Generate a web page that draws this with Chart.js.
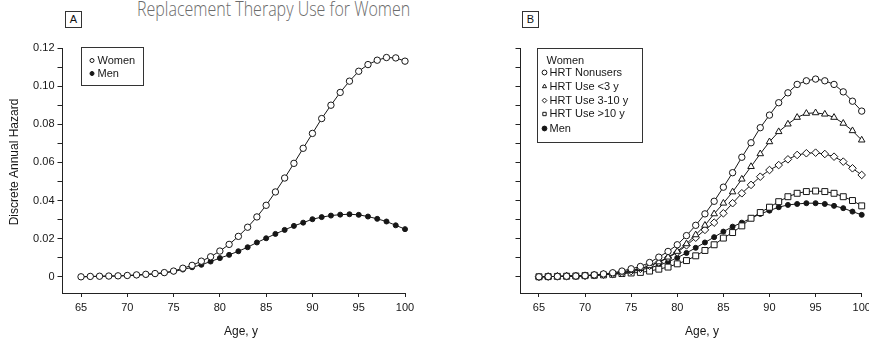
<!DOCTYPE html>
<html>
<head>
<meta charset="utf-8">
<script src="https://cdn.jsdelivr.net/npm/chart.js@4.4.1/dist/chart.umd.min.js"></script>
<style>
html, body { margin: 0; padding: 0; background: #fff; overflow: hidden; }
body { width: 869px; height: 342px; position: relative; font-family: "Liberation Sans", Arial, sans-serif; }
canvas { position: absolute; top: 0; }
#chartA { left: 0; }
#chartB { left: 460px; }
.tag { position: absolute; top: 11px; width: 15px; height: 15px; border: 1px solid #333; font-size: 11px; line-height: 15px; text-align: center; color: #111; }
#title { position: absolute; left: 137px; top: -1px; font-family: "Open Sans", sans-serif; font-weight: 300; font-size: 20px; line-height: 20px; color: #6b6b6b; white-space: nowrap; transform-origin: 0 0; }
</style>
</head>
<body>
<div id="title">Replacement Therapy Use for Women</div>
<div class="tag" style="left:65px">A</div>
<div class="tag" style="left:522px">B</div>
<canvas id="chartA" width="430" height="342"></canvas>
<canvas id="chartB" width="409" height="342"></canvas>
<script>
const ages = [65, 66, 67, 68, 69, 70, 71, 72, 73, 74, 75, 76, 77, 78, 79, 80, 81, 82,
  83, 84, 85, 86, 87, 88, 89, 90, 91, 92, 93, 94, 95, 96, 97, 98, 99, 100];

// panel A
const womenA = [0.0000, 0.0002, 0.0003, 0.0004, 0.0005, 0.0007, 0.0010, 0.0013, 0.0017, 0.0022,
  0.0030, 0.0045, 0.0060, 0.0082, 0.0105, 0.0135, 0.0170, 0.0212, 0.0260, 0.0314,
  0.0375, 0.0445, 0.0518, 0.0595, 0.0674, 0.0752, 0.0830, 0.0900, 0.0967, 0.1026,
  0.1078, 0.1113, 0.1136, 0.1150, 0.1148, 0.1131];
const menA = [0.0000, 0.0001, 0.0002, 0.0003, 0.0004, 0.0006, 0.0008, 0.0011, 0.0015, 0.0020,
  0.0028, 0.0038, 0.0050, 0.0063, 0.0080, 0.0098, 0.0115, 0.0134, 0.0155, 0.0180,
  0.0202, 0.0225, 0.0246, 0.0267, 0.0284, 0.0302, 0.0313, 0.0321, 0.0326, 0.0328,
  0.0325, 0.0316, 0.0304, 0.0290, 0.0270, 0.0250];

// panel B
const nonusersB = [0.0000, 0.0001, 0.0002, 0.0003, 0.0004, 0.0006, 0.0010, 0.0015, 0.0021, 0.0030,
  0.0042, 0.0054, 0.0075, 0.0103, 0.0133, 0.0168, 0.0216, 0.0270, 0.0330, 0.0396,
  0.0470, 0.0546, 0.0627, 0.0703, 0.0782, 0.0848, 0.0913, 0.0965, 0.1009, 0.1028,
  0.1037, 0.1028, 0.1009, 0.0970, 0.0921, 0.0869];
const under3B = [0.0000, 0.0001, 0.0002, 0.0003, 0.0004, 0.0006, 0.0009, 0.0013, 0.0018, 0.0025,
  0.0033, 0.0043, 0.0058, 0.0078, 0.0103, 0.0133, 0.0173, 0.0220, 0.0270, 0.0330,
  0.0386, 0.0445, 0.0512, 0.0578, 0.0645, 0.0708, 0.0761, 0.0801, 0.0836, 0.0857,
  0.0860, 0.0853, 0.0836, 0.0805, 0.0766, 0.0717];
const from3to10B = [0.0000, 0.0001, 0.0002, 0.0003, 0.0004, 0.0005, 0.0008, 0.0011, 0.0015, 0.0020,
  0.0030, 0.0042, 0.0058, 0.0075, 0.0100, 0.0128, 0.0165, 0.0205, 0.0246, 0.0284,
  0.0333, 0.0386, 0.0438, 0.0482, 0.0525, 0.0560, 0.0586, 0.0616, 0.0639, 0.0648,
  0.0651, 0.0644, 0.0630, 0.0604, 0.0569, 0.0534];
const over10B = [0.0000, 0.0001, 0.0002, 0.0003, 0.0004, 0.0006, 0.0008, 0.0010, 0.0013, 0.0017,
  0.0020, 0.0023, 0.0030, 0.0040, 0.0051, 0.0068, 0.0085, 0.0110, 0.0138, 0.0168,
  0.0203, 0.0232, 0.0267, 0.0307, 0.0337, 0.0365, 0.0394, 0.0420, 0.0438, 0.0447,
  0.0450, 0.0447, 0.0438, 0.0420, 0.0400, 0.0372];
const menB = [0.0000, 0.0001, 0.0002, 0.0003, 0.0004, 0.0006, 0.0008, 0.0011, 0.0015, 0.0020,
  0.0027, 0.0036, 0.0047, 0.0060, 0.0078, 0.0100, 0.0125, 0.0152, 0.0180, 0.0208,
  0.0237, 0.0263, 0.0284, 0.0307, 0.0330, 0.0347, 0.0365, 0.0377, 0.0382, 0.0386,
  0.0386, 0.0382, 0.0372, 0.0360, 0.0342, 0.0325];

const xTicks = [65, 70, 75, 80, 85, 90, 95, 100];
const yTicks = [0, 0.01, 0.02, 0.03, 0.04, 0.05, 0.06, 0.07, 0.08, 0.09, 0.10, 0.11, 0.12];
const yTickLabels = ['0', '', '0.02', '', '0.04', '', '0.06', '', '0.08', '', '0.10', '', '0.12'];

const FONT = '"Liberation Sans", Arial, Helvetica, sans-serif';
const INK = '#161616';
Chart.defaults.font.family = FONT;
Chart.defaults.font.size = 11;
Chart.defaults.color = INK;

// squeeze the partial page heading to the width it has in the scan
const title = document.getElementById('title');
title.style.transform = 'scaleX(' + (273 / title.offsetWidth) + ')';

// legend drawn inside the plot area, framed
const boxLegend = {
  id: 'boxLegend',
  afterDatasetsDraw(chart, args, o) {
    if (!o || !o.rows) return;
    const ctx = chart.ctx;
    const a = chart.chartArea;
    const x0 = Math.round(a.left + o.left) + 0.5;
    const y0 = Math.round(a.top + o.top) + 0.5;
    ctx.save();
    ctx.fillStyle = '#fff';
    ctx.fillRect(x0, y0, o.width, o.height);
    ctx.strokeStyle = '#333';
    ctx.lineWidth = 1;
    ctx.strokeRect(x0, y0, o.width, o.height);
    ctx.font = '11px ' + FONT;
    ctx.textBaseline = 'middle';
    ctx.textAlign = 'left';
    ctx.fillStyle = INK;
    if (o.title) ctx.fillText(o.title, x0 + o.titleX, y0 + o.titleY);
    chart.data.datasets.forEach((ds, i) => {
      const y = y0 + o.rows[i];
      ctx.fillStyle = ds.pointBackgroundColor;
      ctx.strokeStyle = INK;
      ctx.lineWidth = 1;
      Chart.helpers.drawPoint(ctx, {pointStyle: ds.pointStyle, radius: o.markerRadius, rotation: 0, borderWidth: 1}, x0 + o.markerX, y);
      ctx.fillStyle = INK;
      ctx.fillText(ds.label, x0 + o.textX, y);
    });
    ctx.restore();
  }
};

// axis captions placed where the scan has them
const captions = {
  id: 'captions',
  afterDraw(chart, args, o) {
    const ctx = chart.ctx;
    (o.items || []).forEach(it => {
      ctx.save();
      ctx.translate(it.x, it.y);
      if (it.rotate) ctx.rotate(-Math.PI / 2);
      ctx.font = '12px ' + FONT;
      ctx.fillStyle = INK;
      ctx.textAlign = 'center';
      ctx.textBaseline = 'middle';
      ctx.fillText(it.text, 0, 0);
      ctx.restore();
    });
  }
};

function series(label, data, style, radius, fill) {
  return {
    label: label,
    data: data,
    borderColor: INK,
    borderWidth: 1,
    pointStyle: style,
    pointRadius: radius,
    pointBackgroundColor: fill,
    pointBorderColor: INK,
    pointBorderWidth: 1,
    tension: 0,
    clip: false
  };
}

function options(o) {
  return {
    responsive: false,
    animation: false,
    events: [],
    layout: {padding: {top: 48, right: o.padRight, left: 0, bottom: 0}},
    plugins: {
      legend: {display: false},
      tooltip: {enabled: false},
      boxLegend: o.legend,
      captions: {items: o.captions}
    },
    scales: {
      x: {
        type: 'linear',
        min: 63,
        max: 100,
        afterBuildTicks: s => { s.ticks = xTicks.map(v => ({value: v})); },
        afterFit: s => { s.height = 49; s.paddingLeft = 0; s.paddingRight = 0; },
        grid: {drawOnChartArea: false, drawTicks: true, tickLength: 4, color: '#222'},
        border: {display: true, color: '#222', width: 1},
        ticks: {padding: 4, maxRotation: 0, autoSkip: false, font: {size: 11}}
      },
      y: {
        min: -0.0085,
        max: 0.12,
        afterBuildTicks: s => { s.ticks = yTicks.map(v => ({value: v})); },
        afterFit: s => { s.width = o.yWidth; s.paddingTop = 0; s.paddingBottom = 0; },
        grid: {drawOnChartArea: false, drawTicks: true, tickLength: 5, color: '#222'},
        border: {display: true, color: '#222', width: 1},
        ticks: {
          padding: 3,
          font: {size: 11},
          callback: (v, i) => o.showLabels ? yTickLabels[i] : ''
        }
      }
    }
  };
}

new Chart(document.getElementById('chartA'), {
  type: 'line',
  data: {
    labels: ages,
    datasets: [
      series('Women', womenA, 'circle', 3.2, '#fff'),
      series('Men', menA, 'circle', 2.5, INK)
    ]
  },
  options: options({
    padRight: 25,
    yWidth: 62.5,
    showLabels: true,
    legend: {left: 18.5, top: -1, width: 62, height: 38, rows: [13, 26], markerX: 10.5, markerRadius: 2, textX: 16},
    captions: [
      {text: 'Discrete Annual Hazard', x: 15, y: 162, rotate: true},
      {text: 'Age, y', x: 241, y: 332}
    ]
  }),
  plugins: [boxLegend, captions]
});

new Chart(document.getElementById('chartB'), {
  type: 'line',
  data: {
    labels: ages,
    datasets: [
      series('HRT Nonusers', nonusersB, 'circle', 3.2, '#fff'),
      series('HRT Use <3 y', under3B, 'triangle', 3.8, '#fff'),
      series('HRT Use 3-10 y', from3to10B, 'rectRot', 3.8, '#fff'),
      series('HRT Use >10 y', over10B, 'rect', 4.2, '#fff'),
      series('Men', menB, 'circle', 2.5, INK)
    ]
  },
  options: options({
    padRight: 7.3,
    yWidth: 60.5,
    showLabels: false,
    legend: {left: 16.5, top: 0, width: 105, height: 94, title: 'Women', titleX: 9, titleY: 12,
      rows: [24, 38, 52, 65.5, 80], markerX: 7, markerRadius: 2.4, textX: 12},
    captions: [
      {text: 'Age, y', x: 242, y: 332}
    ]
  }),
  plugins: [boxLegend, captions]
});
</script>
</body>
</html>
